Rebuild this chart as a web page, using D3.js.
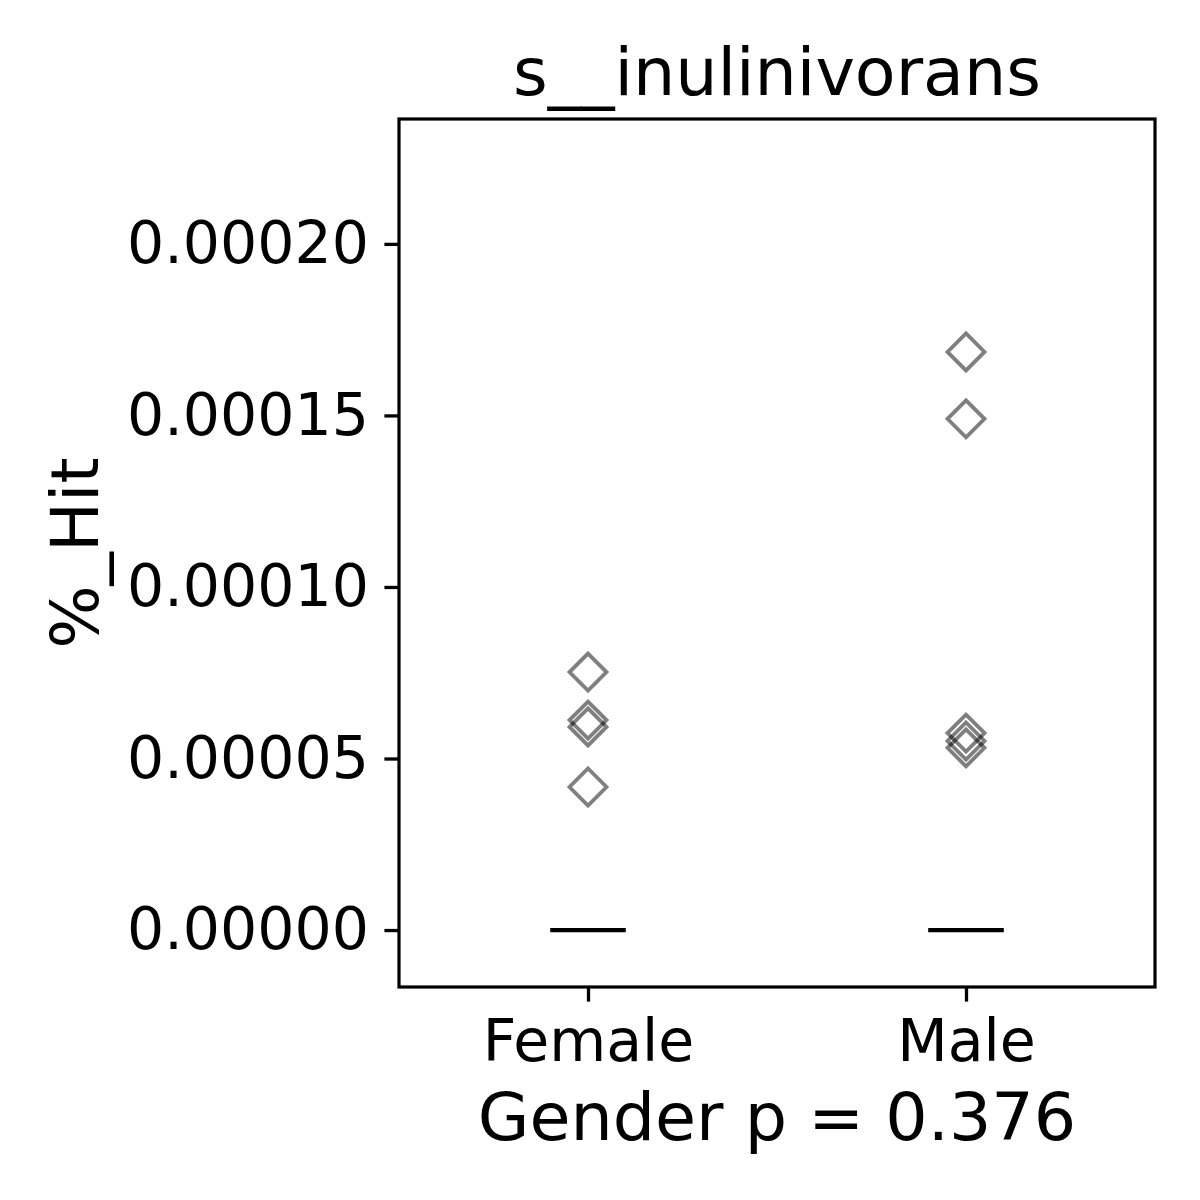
<!DOCTYPE html>
<html><head><meta charset="utf-8">
<script src="https://cdn.jsdelivr.net/npm/d3@7"></script>
<style>body{margin:0;background:#fff}svg{display:block}text{font-family:"DejaVu Sans",sans-serif;fill:#000}</style>
</head><body>
<svg id="c" width="1200" height="1200"></svg>
<script>
const title = "s__inulinivorans";
const xLabel = "Gender p = 0.376";
const yLabel = "%_Hit";
const categories = ["Female", "Male"];
const femaleValues = [0.0000752, 0.0000612, 0.0000592, 0.0000417];
const maleValues = [0.0001685, 0.0001490, 0.0000574, 0.0000551, 0.0000531];
const medians = [0, 0];
const yTicks = [0, 0.00005, 0.0001, 0.00015, 0.0002];
const yTickLabels = ["0.00000", "0.00005", "0.00010", "0.00015", "0.00020"];

const svg = d3.select("#c");
const L = 399, R = 1155, T = 119, B = 987;
const x = d3.scaleLinear().domain([-0.5, 1.5]).range([L, R]);
const y = d3.scaleLinear().domain([-0.0000166, 0.0002364]).range([B, T]);

const series = [femaleValues, maleValues];
const g = svg.append("g");
medians.forEach((m, i) => {
  g.append("line").attr("x1", x(i - 0.1)).attr("x2", x(i + 0.1))
    .attr("y1", y(m)).attr("y2", y(m)).attr("stroke", "#000").attr("stroke-width", 4.2);
});
const h = 18.5;
series.forEach((vals, i) => {
  vals.forEach(v => {
    const cx = x(i), cy = y(v);
    g.append("path").attr("d", `M${cx},${cy-h}L${cx+h},${cy}L${cx},${cy+h}L${cx-h},${cy}Z`)
      .attr("fill", "none").attr("stroke", "#000").attr("stroke-opacity", 0.5).attr("stroke-width", 3.8);
  });
});

const yAxis = d3.axisLeft(y).tickValues(yTicks).tickFormat((d, i) => yTickLabels[i]).tickSize(14.6).tickPadding(15.5);
const xAxis = d3.axisBottom(x).tickValues([0, 1]).tickFormat((d, i) => categories[i]).tickSize(14.6).tickPadding(18);
const ya = svg.append("g").attr("transform", `translate(${L},0)`).call(yAxis);
const xa = svg.append("g").attr("transform", `translate(0,${B})`).call(xAxis);
[ya, xa].forEach(a => {
  a.select(".domain").remove();
  a.selectAll(".tick line").attr("stroke", "#000").attr("stroke-width", 3.3);
  a.selectAll(".tick text").attr("font-size", 58.5).attr("font-family", "DejaVu Sans");
});
svg.append("rect").attr("x", L).attr("y", T).attr("width", R - L).attr("height", B - T)
  .attr("fill", "none").attr("stroke", "#000").attr("stroke-width", 3.2);

svg.append("text").attr("x", (L + R) / 2).attr("y", 95).attr("text-anchor", "middle")
  .attr("font-size", 66.7).text(title);
svg.append("text").attr("x", (L + R) / 2).attr("y", 1140).attr("text-anchor", "middle")
  .attr("font-size", 66.7).text(xLabel);
svg.append("text").attr("transform", `translate(98,${(T + B) / 2}) rotate(-90)`).attr("text-anchor", "middle")
  .attr("font-size", 66.7).text(yLabel);
</script>
</body></html>
